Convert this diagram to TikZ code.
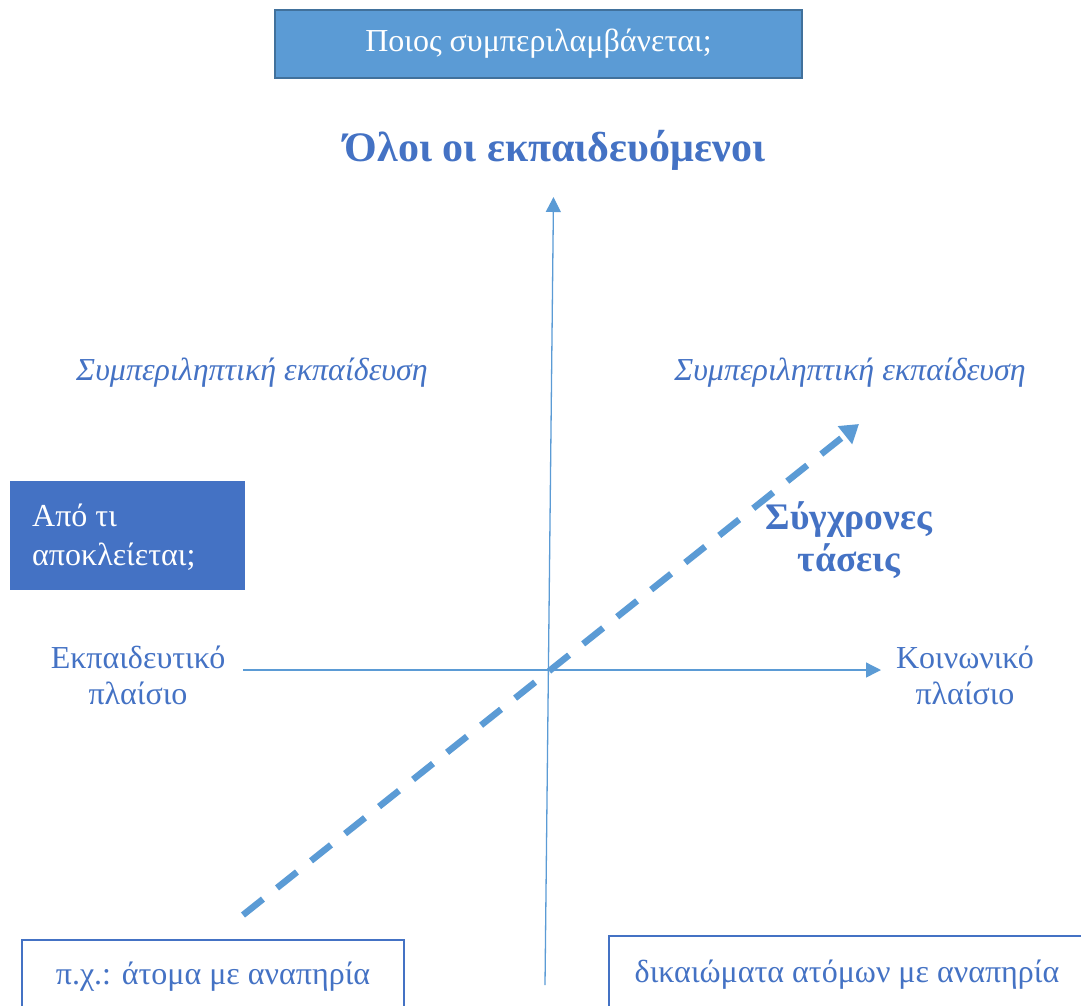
\documentclass[tikz,border=0pt]{standalone}
\usepackage{fontspec}
\setmainfont{Liberation Serif}
\usetikzlibrary{arrows.meta}
\definecolor{lblue}{HTML}{5B9BD5}
\definecolor{dblue}{HTML}{4472C4}
\definecolor{bord}{HTML}{41719C}
\begin{document}
\begin{tikzpicture}[x=1pt,y=-1pt,
  txt/.style={font=\fontsize{32}{36}\selectfont, text=dblue, align=center, inner sep=0pt},
  axis/.style={draw=lblue, line width=1.3pt, -{Triangle[length=15pt,width=15pt]}},
  trend/.style={draw=lblue, line width=6.5pt, dash pattern=on 25.5pt off 18pt, -{Triangle[length=18pt,width=22pt]}},
  wbox/.style={draw=dblue, line width=2.5pt, fill=white}]
\useasboundingbox (0,0) rectangle (1081,1005);
\clip (0,0) rectangle (1081,1005);
% top box
\node[draw=bord, line width=2pt, fill=lblue, minimum width=527pt, minimum height=68pt, inner sep=0pt,
  font=\fontsize{32}{36}\selectfont, text=white] (top) at (538.5,44) {Ποιος συμπεριλαμβάνεται;};
\node[txt, font=\fontsize{42}{46}\selectfont\bfseries] (all) at (555,150) {Όλοι οι εκπαιδευόμενοι};
% axes
\coordinate (vb) at (545,985);
\coordinate (vt) at (553.5,197);
\coordinate (hl) at (243,670);
\coordinate (hr) at (881,670);
\draw[axis] (vb) -- (vt);
\draw[axis] (hl) -- (hr);
% trend
\coordinate (ts) at (243,915);
\coordinate (te) at (859,424);
\draw[trend] (ts) -- (te);
% labels
\node[txt, font=\fontsize{32}{36}\selectfont\itshape] (incl1) at (252,373) {Συμπεριληπτική εκπαίδευση};
\node[txt, font=\fontsize{32}{36}\selectfont\itshape] (incl2) at (850,373) {Συμπεριληπτική εκπαίδευση};
\node[txt, font=\fontsize{37.5}{42}\selectfont\bfseries] (trends) at (849,540) {Σύγχρονες\\τάσεις};
\node[txt] (edu) at (138,675) {Εκπαιδευτικό\\πλαίσιο};
\node[txt] (soc) at (965,675) {Κοινωνικό\\πλαίσιο};
% left box
\node[fill=dblue, draw=dblue, minimum width=234pt, minimum height=108pt, inner sep=0pt] (lbox) at (127,535) {};
\node[anchor=west, align=left, text=white, font=\fontsize{32}{39}\selectfont, inner sep=0pt] (ltxt) at (32,537) {Από τι\\αποκλείεται;};
% bottom boxes
\draw[wbox] (22,940) rectangle (404,1030);
\node[txt] (ex) at (213,977) {π.χ.: άτομα με αναπηρία};
\draw[wbox] (609,936) rectangle (1100,1030);
\node[txt] (rights) at (847,975) {δικαιώματα ατόμων με αναπηρία};
\end{tikzpicture}
\end{document}
